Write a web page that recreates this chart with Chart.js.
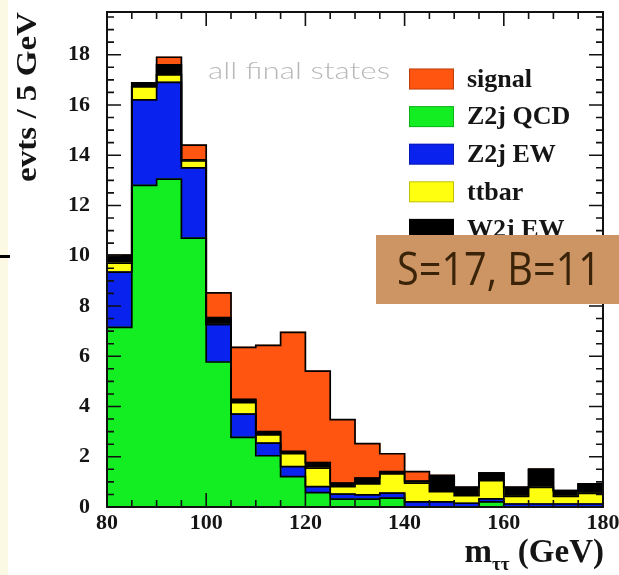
<!DOCTYPE html>
<html>
<head>
<meta charset="utf-8">
<script src="https://cdn.jsdelivr.net/npm/chart.js@4/dist/chart.umd.min.js"></script>
<style>
  html, body { margin: 0; padding: 0; background: #ffffff; }
  #wrap { position: relative; width: 619px; height: 575px; }
</style>
</head>
<body>
<div id="wrap"><canvas id="c" width="619" height="575"></canvas></div>
<script>
// m_tautau distribution, 5 GeV bins from 80 to 180 GeV
const binLow = [80, 85, 90, 95, 100, 105, 110, 115, 120, 125, 130, 135, 140, 145, 150, 155, 160, 165, 170, 175];
const binWidth = 5;

// events per bin for each process (stacked bottom to top)
const z2jQCD = [7.15, 12.8, 13.05, 10.7, 5.77, 2.77, 2.04, 1.21, 0.57, 0.31, 0.31, 0.35, 0, 0, 0, 0.2, 0, 0, 0, 0];
const z2jEW  = [2.2, 3.4, 3.85, 2.8, 1.5, 0.93, 0.5, 0.4, 0.24, 0.2, 0.17, 0.2, 0.2, 0.2, 0.15, 0.12, 0.12, 0.12, 0.12, 0.12];
const ttbar  = [0.35, 0.52, 0.3, 0.27, 0.0, 0.45, 0.33, 0.51, 0.74, 0.3, 0.44, 0.77, 0.75, 0.41, 0.3, 0.73, 0.3, 0.66, 0.3, 0.42];
const w2jEW  = [0.32, 0.16, 0.4, 0.05, 0.27, 0.13, 0.13, 0.09, 0.22, 0.14, 0.23, 0.09, 0.08, 0.6, 0.33, 0.3, 0.36, 0.72, 0.23, 0.38];
const signal = [0, 0, 0.3, 0.58, 0.98, 2.07, 3.43, 4.74, 3.64, 2.53, 1.37, 0.71, 0.38, 0.05, 0, 0, 0, 0, 0, 0];

const xTickLabels = [80, 100, 120, 140, 160, 180];
const yTickLabels = [0, 2, 4, 6, 8, 10, 12, 14, 16, 18];

const series = [
  { label: 'Z2j QCD', values: z2jQCD, color: '#12ee22' },
  { label: 'Z2j EW',  values: z2jEW,  color: '#0a22ee' },
  { label: 'ttbar',   values: ttbar,  color: '#ffff10' },
  { label: 'W2j EW',  values: w2jEW,  color: '#000000' },
  { label: 'signal',  values: signal, color: '#ff5510' }
];
const legendOrder = ['signal', 'Z2j QCD', 'Z2j EW', 'ttbar', 'W2j EW'];

const SERIF = '"Liberation Serif", "Times New Roman", serif';

const datasets = series.map(s => ({
  label: s.label,
  data: s.values.map((v, i) => ({ x: binLow[i] + binWidth / 2, y: v })),
  backgroundColor: s.color,
  borderWidth: 0,
  inflateAmount: 0.6,
  barPercentage: 1.0,
  categoryPercentage: 1.0
}));

// draws text stretched along its baseline to a given width
function fitText(ctx, text, x, y, width) {
  const w = ctx.measureText(text).width;
  ctx.save();
  ctx.translate(x, y);
  ctx.scale(width / w, 1);
  ctx.fillText(text, 0, 0);
  ctx.restore();
}

// page background, histogram outlines, axes frame, legend and annotations
const decorations = {
  id: 'decorations',
  beforeDraw(chart) {
    const ctx = chart.ctx;
    ctx.save();
    ctx.fillStyle = '#ffffff';
    ctx.fillRect(0, 0, chart.width, chart.height);
    ctx.fillStyle = '#fbf8e4';
    ctx.fillRect(0, 0, 8, chart.height);
    ctx.fillStyle = '#000000';
    ctx.fillRect(0, 255, 10, 3);
    ctx.restore();
  },
  afterDatasetsDraw(chart) {
    const ctx = chart.ctx;
    const xs = chart.scales.x, ys = chart.scales.y;
    const area = chart.chartArea;
    const y0 = ys.getPixelForValue(0);
    ctx.save();
    ctx.beginPath();
    ctx.rect(area.left, area.top, area.right - area.left, area.bottom - area.top);
    ctx.clip();
    // step outline of each cumulative layer
    const cum = binLow.map(() => 0);
    ctx.strokeStyle = '#000000';
    ctx.lineWidth = 1.7;
    ctx.lineJoin = 'miter';
    series.forEach(s => {
      s.values.forEach((v, i) => { cum[i] += v; });
      ctx.beginPath();
      binLow.forEach((lo, i) => {
        const xl = xs.getPixelForValue(lo);
        const xr = xs.getPixelForValue(lo + binWidth);
        const y = ys.getPixelForValue(cum[i]);
        if (i === 0) { ctx.moveTo(xl, y0); }
        ctx.lineTo(xl, y);
        ctx.lineTo(xr, y);
      });
      ctx.lineTo(xs.getPixelForValue(binLow[binLow.length - 1] + binWidth), y0);
      ctx.stroke();
    });
    ctx.restore();

    // frame and inward ticks
    ctx.save();
    ctx.strokeStyle = '#111111';
    ctx.lineWidth = 2;
    ctx.strokeRect(area.left, area.top, area.right - area.left, area.bottom - area.top);
    ctx.lineWidth = 1.6;
    ctx.beginPath();
    for (let v = xs.min; v <= xs.max + 1e-6; v += 5) {
      const px = xs.getPixelForValue(v);
      const len = (Math.abs(v % 20) < 1e-6) ? 14 : 7;
      ctx.moveTo(px, area.bottom); ctx.lineTo(px, area.bottom - len);
      ctx.moveTo(px, area.top); ctx.lineTo(px, area.top + len);
    }
    for (let k = 0; k * 0.5 <= ys.max + 1e-6; k++) {
      const v = k * 0.5;
      const py = ys.getPixelForValue(v);
      const len = (k % 4 === 0) ? 14 : 7;
      ctx.moveTo(area.left, py); ctx.lineTo(area.left + len, py);
      ctx.moveTo(area.right, py); ctx.lineTo(area.right - len, py);
    }
    ctx.stroke();
    ctx.restore();
  },
  afterDraw(chart) {
    const ctx = chart.ctx;
    ctx.save();

    // legend
    const byLabel = {};
    chart.data.datasets.forEach(d => { byLabel[d.label] = d.backgroundColor; });
    ctx.font = 'bold 26px ' + SERIF;
    ctx.textBaseline = 'middle';
    ctx.textAlign = 'left';
    legendOrder.forEach((lab, r) => {
      const cy = 79 + r * 37.6;
      ctx.fillStyle = byLabel[lab];
      ctx.fillRect(409, cy - 10.5, 45, 21);
      ctx.strokeStyle = 'rgba(0,0,0,0.25)';
      ctx.lineWidth = 1;
      ctx.strokeRect(409.5, cy - 10, 44, 20);
      ctx.fillStyle = '#151515';
      ctx.fillText(lab, 467, cy + 1);
    });

    // annotation
    ctx.fillStyle = '#b8b8b8';
    ctx.font = '300 23px Lato, "Noto Sans", sans-serif';
    ctx.textBaseline = 'middle';
    fitText(ctx, 'all final states', 208, 72, 182);

    // y title
    ctx.save();
    ctx.translate(28, 97);
    ctx.rotate(-Math.PI / 2);
    ctx.font = 'bold 30px ' + SERIF;
    ctx.fillStyle = '#151515';
    ctx.textAlign = 'left';
    ctx.textBaseline = 'middle';
    fitText(ctx, 'evts / 5 GeV', -85, 0, 170);
    ctx.restore();

    // x title with subscript
    ctx.fillStyle = '#151515';
    ctx.textBaseline = 'alphabetic';
    ctx.textAlign = 'left';
    const mainFont = 'bold 33px ' + SERIF;
    const subFont = 'bold 19px ' + SERIF;
    ctx.font = mainFont;
    const wm = ctx.measureText('m').width;
    const wr = ctx.measureText(' (GeV)').width;
    ctx.font = subFont;
    const ws = ctx.measureText('ττ').width;
    let x = 604 - (wm + ws + wr);
    const base = 562;
    ctx.font = mainFont; ctx.fillText('m', x, base); x += wm;
    ctx.font = subFont; ctx.fillText('ττ', x, base + 8); x += ws;
    ctx.font = mainFont; ctx.fillText(' (GeV)', x, base);

    // summary box
    ctx.fillStyle = '#cc9563';
    ctx.fillRect(376, 235, 243, 69);
    ctx.fillStyle = '#3a2308';
    ctx.font = '400 45px "Open Sans", "Noto Sans", sans-serif';
    ctx.textBaseline = 'alphabetic';
    fitText(ctx, 'S=17, B=11', 397, 285, 204);

    ctx.restore();
  }
};

new Chart(document.getElementById('c'), {
  type: 'bar',
  data: { datasets },
  options: {
    responsive: false,
    animation: false,
    devicePixelRatio: 1,
    layout: { padding: { left: 0, right: 16, top: 12, bottom: 0 } },
    plugins: { legend: { display: false }, tooltip: { enabled: false } },
    scales: {
      x: {
        type: 'linear',
        stacked: true,
        min: 80,
        max: 180,
        offset: false,
        grid: { display: false, drawTicks: false },
        border: { display: false },
        afterFit(scale) { scale.height = 68; scale.paddingLeft = 0; scale.paddingRight = 0; },
        afterBuildTicks(scale) { scale.ticks = xTickLabels.map(v => ({ value: v })); },
        ticks: {
          padding: 3,
          maxRotation: 0,
          autoSkip: false,
          color: '#151515',
          font: { family: SERIF, weight: 'bold', size: 22 }
        }
      },
      y: {
        stacked: true,
        min: 0,
        max: 19.7,
        grid: { display: false, drawTicks: false },
        border: { display: false },
        afterFit(scale) { scale.width = 107; scale.paddingTop = 0; scale.paddingBottom = 0; },
        afterBuildTicks(scale) { scale.ticks = yTickLabels.map(v => ({ value: v })); },
        ticks: {
          padding: 17,
          color: '#151515',
          font: { family: SERIF, weight: 'bold', size: 22 }
        }
      }
    }
  },
  plugins: [decorations]
});
</script>
</body>
</html>
